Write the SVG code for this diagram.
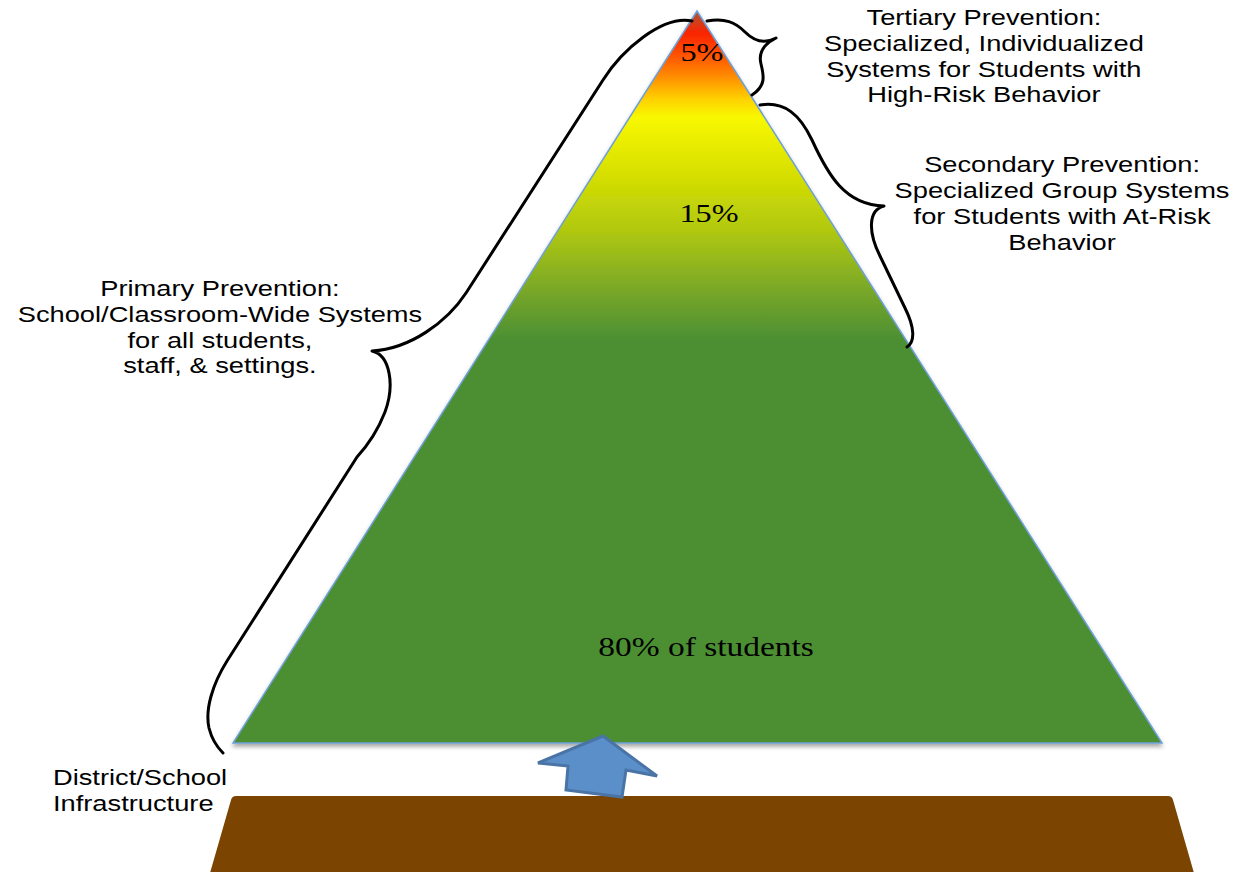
<svg xmlns="http://www.w3.org/2000/svg" width="1236" height="872" viewBox="0 0 1236 872">
  <style>
    .lbl { font-family: "Liberation Sans", Arial, sans-serif; font-size: 22px; fill: #000; }
    .mid { text-anchor: middle; }
    .pct { font-family: "Liberation Serif", "Times New Roman", serif; fill: #000; text-anchor: middle; }
    .brace { fill: none; stroke: #000; stroke-width: 3; stroke-linecap: round; stroke-linejoin: round; }
  </style>
  <defs>
    <linearGradient id="tierFill" gradientUnits="userSpaceOnUse" x1="0" y1="11" x2="0" y2="743">
      <stop offset="0" stop-color="#a85a3a"/>
      <stop offset="0.03" stop-color="#fa2400"/>
      <stop offset="0.06" stop-color="#ff5200"/>
      <stop offset="0.09" stop-color="#ff8e00"/>
      <stop offset="0.12" stop-color="#ffd000"/>
      <stop offset="0.145" stop-color="#f8f800"/>
      <stop offset="0.22" stop-color="#d8e000"/>
      <stop offset="0.30" stop-color="#b0c810"/>
      <stop offset="0.38" stop-color="#7aa828"/>
      <stop offset="0.45" stop-color="#4b8f33"/>
      <stop offset="1" stop-color="#4b8f33"/>
    </linearGradient>
    <filter id="softShadow" x="-5%" y="-5%" width="110%" height="115%">
      <feDropShadow dx="0" dy="3" stdDeviation="2" flood-color="#000" flood-opacity="0.35"/>
    </filter>
  </defs>

  <rect width="1236" height="872" fill="#fff"/>

  <!-- ground slab -->
  <g id="infrastructure-base">
    <path d="M 236 796 L 1168 796 Q 1172 796 1173 800 L 1196 880 L 208 880 L 231 800 Q 232 796 236 796 Z" fill="#7b4501"/>
  </g>

  <!-- the three-tier pyramid -->
  <g id="pyramid">
    <polygon points="697,11 1162,743 233,743" fill="url(#tierFill)" stroke="#6fa0d8" stroke-width="1.5" filter="url(#softShadow)"/>
  </g>

  <!-- percentage labels inside the pyramid -->
  <g id="tier-percentages" transform="scale(1.24 1)">
    <text class="pct" x="566.1" y="61" font-size="26">5%</text>
    <text class="pct" x="571.8" y="222" font-size="26">15%</text>
    <text class="pct" x="569.4" y="656" font-size="27">80% of students</text>
  </g>

  <!-- support arrow from the base up into the pyramid -->
  <g id="support-arrow">
    <polygon points="603,736 538,763 568,766 566,790 622,797 626,770 657,776" fill="#5b8fc9" stroke="#4a74a6" stroke-width="3" stroke-linejoin="miter"/>
  </g>

  <!-- curly braces linking each label to its tier -->
  <g id="connectors">
    <path class="brace" d="M 692 21 C 662 15 622 50 603 80 L 466 293 C 447 322 410 349 372 351 C 390 355 395 385 385 412 C 378 430 368 445 357 457 L 227 661 C 212 685 205 710 209 728 C 212 740 217 747 223 753"/>
    <path class="brace" d="M 707 21 C 725 18 735 22 745 32 C 755 42 765 44 776 38 C 764 44 758 52 761 64 C 764 76 766 86 752 95"/>
    <path class="brace" d="M 760 105 C 785 101 800 115 812 140 C 828 175 845 205 884 206 C 868 210 868 232 880 256 L 905 308 C 915 328 915 342 907 347"/>
  </g>

  <g id="label-tertiary" transform="scale(1.24 1)">
    <text class="lbl mid" x="793.5" y="25">Tertiary Prevention:</text>
    <text class="lbl mid" x="793.5" y="51">Specialized, Individualized</text>
    <text class="lbl mid" x="793.5" y="77">Systems for Students with</text>
    <text class="lbl mid" x="793.5" y="102">High-Risk Behavior</text>
  </g>

  <g id="label-secondary" transform="scale(1.24 1)">
    <text class="lbl mid" x="856.5" y="172">Secondary Prevention:</text>
    <text class="lbl mid" x="856.5" y="198">Specialized Group Systems</text>
    <text class="lbl mid" x="856.5" y="224">for Students with At-Risk</text>
    <text class="lbl mid" x="856.5" y="250">Behavior</text>
  </g>

  <g id="label-primary" transform="scale(1.24 1)">
    <text class="lbl mid" x="177.4" y="296">Primary Prevention:</text>
    <text class="lbl mid" x="177.4" y="322">School/Classroom-Wide Systems</text>
    <text class="lbl mid" x="177.4" y="348">for all students,</text>
    <text class="lbl mid" x="177.4" y="373">staff, &amp; settings.</text>
  </g>

  <g id="label-infrastructure" transform="scale(1.24 1)">
    <text class="lbl" x="42.7" y="785">District/School</text>
    <text class="lbl" x="42.7" y="811">Infrastructure</text>
  </g>
</svg>
